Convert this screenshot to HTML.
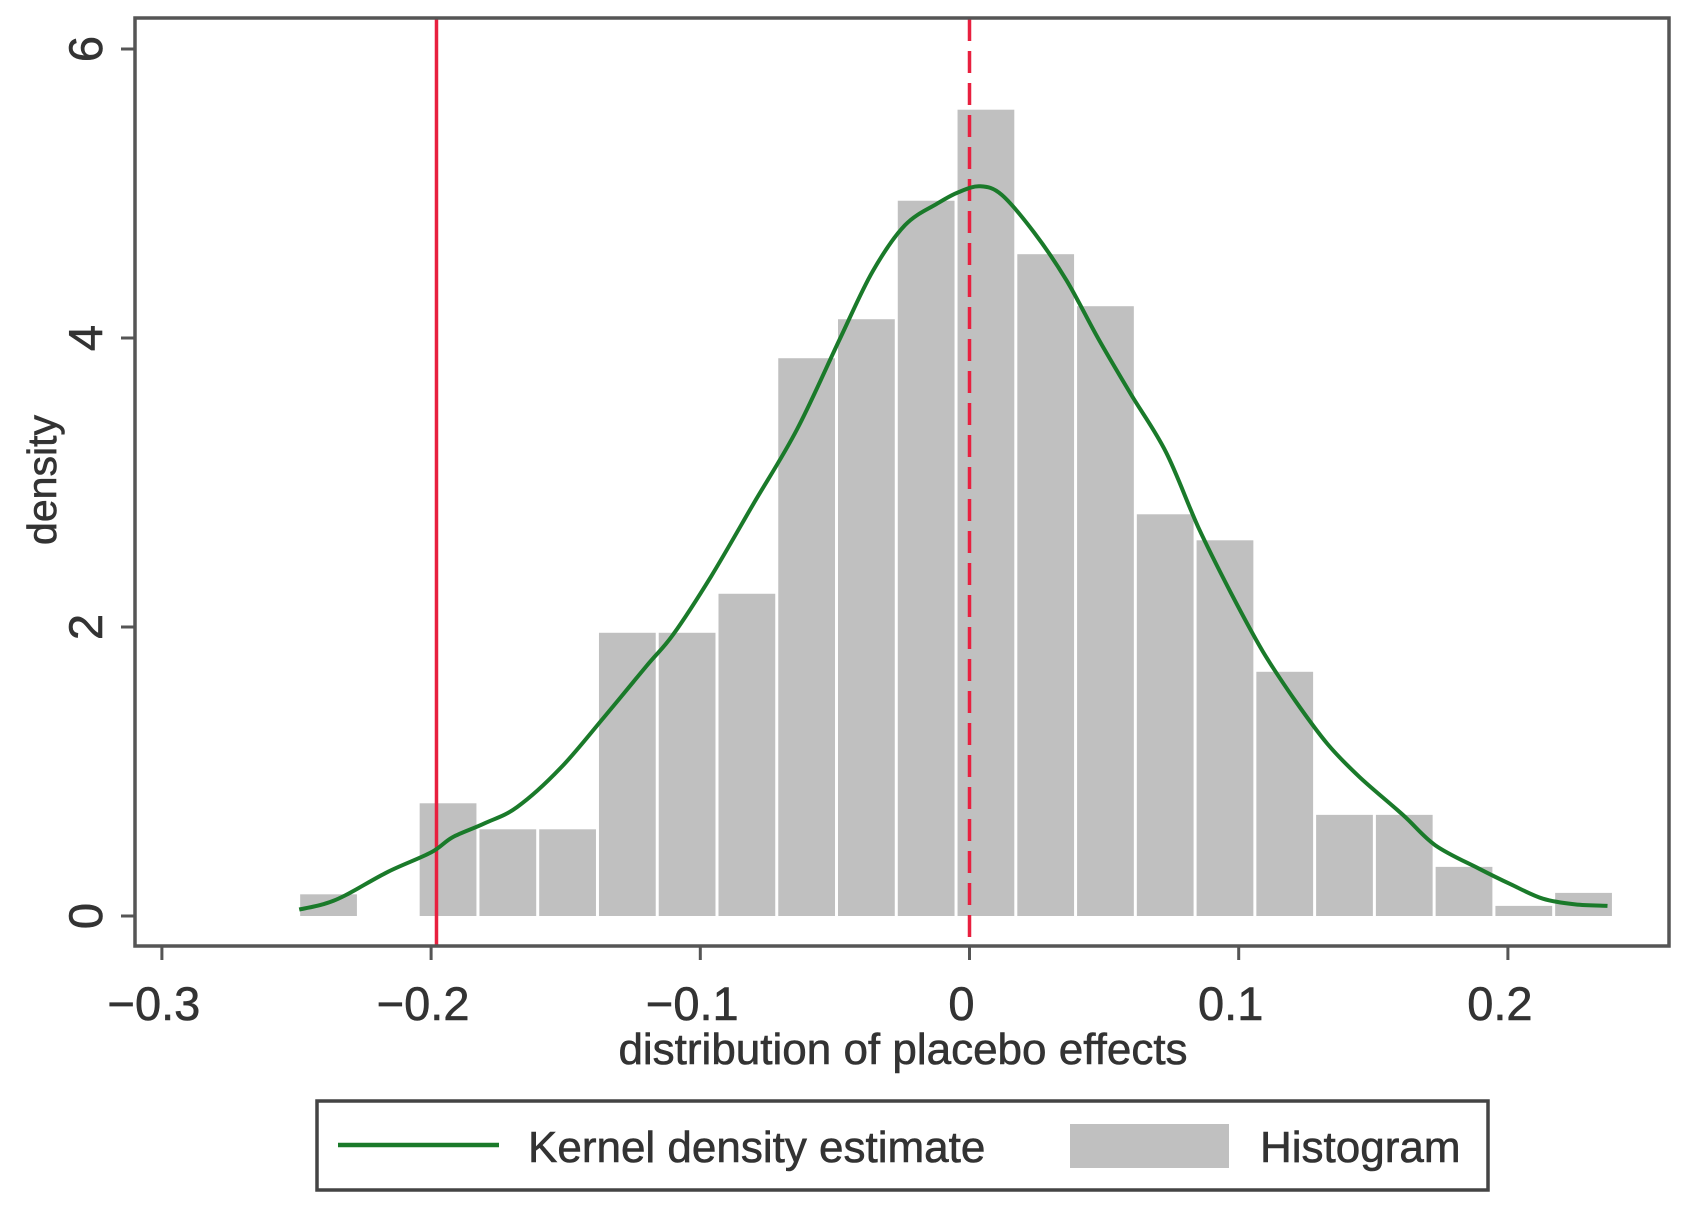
<!DOCTYPE html>
<html><head><meta charset="utf-8"><style>
html,body{margin:0;padding:0;background:#fff;}
svg{display:block;font-family:"Liberation Sans",Arial,sans-serif;}
</style></head><body>
<svg id="chart" width="1691" height="1209" viewBox="0 0 1691 1209">
<rect x="0" y="0" width="1691" height="1209" fill="#fff"/>
<g id="bars"></g>
<g id="refs"></g>
<path id="kde" fill="none" stroke="#1a7a2a" stroke-width="4" stroke-linejoin="round"/>
<rect x="135" y="18" width="1534" height="928" fill="none" stroke="#555" stroke-width="3.5"/>
<g id="xaxis"></g>
<g id="yaxis"></g>
<text x="903" y="1064" font-size="44" text-anchor="middle" fill="#333" stroke="#333" stroke-width="0.6">distribution of placebo effects</text>
<text transform="translate(56,480) rotate(-90)" font-size="41" text-anchor="middle" fill="#333" stroke="#333" stroke-width="0.6">density</text>
<g>
<rect x="317" y="1101" width="1171" height="89" fill="#fff" stroke="#444" stroke-width="3.5"/>
<line x1="338" y1="1145" x2="499" y2="1145" stroke="#1a7a2a" stroke-width="4.5"/>
<text x="528" y="1162" font-size="44" fill="#333" stroke="#333" stroke-width="0.6">Kernel density estimate</text>
<rect x="1070" y="1124" width="159" height="44" fill="#c0c0c0"/>
<text x="1260" y="1162" font-size="44" fill="#333" stroke="#333" stroke-width="0.6">Histogram</text>
</g>
</svg>
<script>
const binStart = -0.2492;
const binWidth = 0.0222;
const binHeights = [0.15,0,0.78,0.6,0.6,1.96,1.96,2.23,3.86,4.13,4.95,5.58,4.58,4.22,2.78,2.6,1.69,0.7,0.7,0.34,0.07,0.16];
const kdeX = [-0.249,-0.240,-0.232,-0.216,-0.200,-0.192,-0.180,-0.168,-0.152,-0.136,-0.120,-0.110,-0.096,-0.080,-0.064,-0.048,-0.036,-0.024,-0.012,-0.004,0.004,0.012,0.024,0.036,0.048,0.060,0.073,0.085,0.097,0.109,0.121,0.133,0.145,0.161,0.173,0.189,0.201,0.213,0.225,0.237];
const kdeY = [0.045,0.082,0.142,0.306,0.44,0.545,0.642,0.754,1.022,1.37,1.73,1.95,2.35,2.86,3.37,4.0,4.46,4.78,4.93,5.01,5.05,4.99,4.73,4.40,3.99,3.61,3.21,2.69,2.24,1.83,1.49,1.19,0.96,0.70,0.49,0.33,0.22,0.12,0.08,0.07];
const xTicks = [-0.3,-0.2,-0.1,0,0.1,0.2];
const xTickLabels = ["\u22120.3","\u22120.2","\u22120.1","0","0.1","0.2"];
const yTicks = [0,2,4,6];
const refSolid = -0.198;
const refDashed = 0;

const NS="http://www.w3.org/2000/svg";
function xs(v){return 969.5+v*2692;}
function ys(v){return 916-v*144.5;}
function mk(tag,attrs,parent){const e=document.createElementNS(NS,tag);for(const k in attrs)e.setAttribute(k,attrs[k]);parent.appendChild(e);return e;}

const bars=document.getElementById('bars');
binHeights.forEach((h,i)=>{
  if(h<=0) return;
  const x0=xs(binStart+i*binWidth), x1=xs(binStart+(i+1)*binWidth);
  const r=mk('rect',{x:x0+1.5,y:ys(h),width:x1-x0-3,height:ys(0)-ys(h),fill:'#c0c0c0'},bars);
  
  
});

const refs=document.getElementById('refs');
const l1=mk('line',{x1:xs(refSolid),x2:xs(refSolid),y1:19,y2:945,stroke:'#e8203f','stroke-width':3.5},refs);


const l2=mk('line',{x1:xs(refDashed),x2:xs(refDashed),y1:19,y2:945,stroke:'#e8203f','stroke-width':3.5,'stroke-dasharray':'22,10'},refs);



const P=kdeX.map((x,i)=>[xs(x),ys(kdeY[i])]);
let d='M'+P[0][0].toFixed(1)+','+P[0][1].toFixed(1);
for(let i=0;i<P.length-1;i++){
  const p0=P[Math.max(0,i-1)],p1=P[i],p2=P[i+1],p3=P[Math.min(P.length-1,i+2)];
  const c1=[p1[0]+(p2[0]-p0[0])/6,p1[1]+(p2[1]-p0[1])/6];
  const c2=[p2[0]-(p3[0]-p1[0])/6,p2[1]-(p3[1]-p1[1])/6];
  d+='C'+c1[0].toFixed(1)+','+c1[1].toFixed(1)+' '+c2[0].toFixed(1)+','+c2[1].toFixed(1)+' '+p2[0].toFixed(1)+','+p2[1].toFixed(1);
}
document.getElementById('kde').setAttribute('d',d);

const xa=document.getElementById('xaxis');
xTicks.forEach((t,i)=>{
  const tk=mk('line',{x1:xs(t),x2:xs(t),y1:946,y2:960,stroke:'#555','stroke-width':3},xa);
  
  
  const tx=mk('text',{x:xs(t)-8,y:1020,'font-size':47,'text-anchor':'middle',fill:'#333',stroke:'#333','stroke-width':0.6},xa);
  tx.textContent=xTickLabels[i];
  
  
});
const ya=document.getElementById('yaxis');
yTicks.forEach(t=>{
  const tk=mk('line',{x1:121,x2:135,y1:ys(t),y2:ys(t),stroke:'#555','stroke-width':3},ya);
  
  
  const tx=mk('text',{transform:'translate(102,'+ys(t)+') rotate(-90)','font-size':47,'text-anchor':'middle',fill:'#333',stroke:'#333','stroke-width':0.6},ya);
  tx.textContent=String(t);
  
  
});
</script>
</body></html>
